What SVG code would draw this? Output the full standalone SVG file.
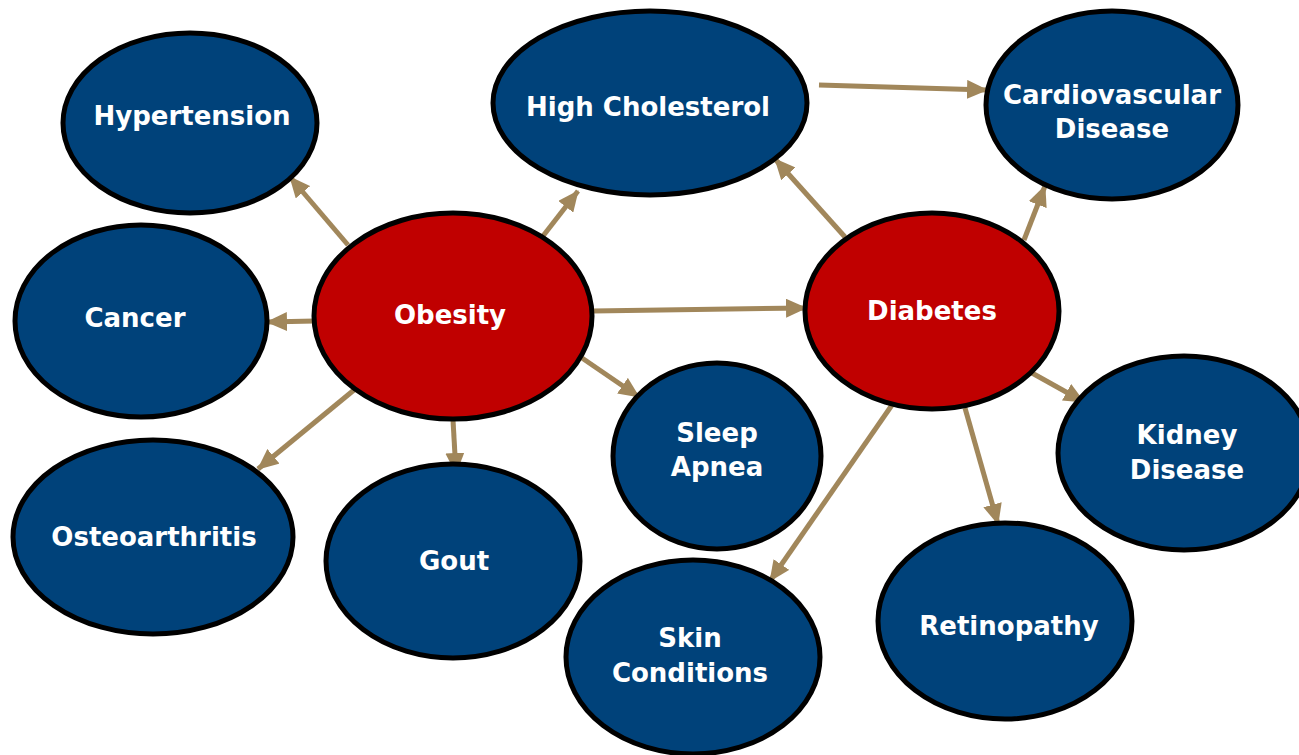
<svg xmlns="http://www.w3.org/2000/svg" width="1299" height="755" viewBox="0 0 1299 755">
<defs>
<style>
.n{fill:#00427a;stroke:#000;stroke-width:5}
.r{fill:#c00000;stroke:#000;stroke-width:5}
.t{fill:#fff;font-family:"DejaVu Sans",Verdana,sans-serif;font-weight:bold;font-size:26px;text-anchor:middle}
.c line{stroke:#a1875b;stroke-width:5;marker-end:url(#a)}
</style>
<marker id="a" markerUnits="userSpaceOnUse" markerWidth="21" markerHeight="19" viewBox="0 0 21 19" refX="20" refY="9.5" orient="auto">
<path d="M0,0 L21,9.5 L0,19 Z" fill="#a1875b"/>
</marker>
</defs>
<rect width="1299" height="755" fill="#fff"/>
<g class="c">
<line x1="348" y1="245" x2="290" y2="177"/>
<line x1="315" y1="321" x2="267" y2="322"/>
<line x1="543" y1="236" x2="578" y2="191"/>
<line x1="354" y1="390" x2="258" y2="469"/>
<line x1="453" y1="420" x2="456" y2="473"/>
<line x1="582" y1="358" x2="639" y2="397"/>
<line x1="593" y1="311" x2="806" y2="308"/>
<line x1="819" y1="85" x2="987" y2="90"/>
<line x1="845" y1="237" x2="775" y2="159"/>
<line x1="1024" y1="240" x2="1045" y2="186"/>
<line x1="1032" y1="373" x2="1084" y2="402"/>
<line x1="965" y1="408" x2="998" y2="524"/>
<line x1="892" y1="405" x2="770" y2="581"/>
</g>
<g id="hypertension"><ellipse class="n" cx="190" cy="123" rx="127" ry="90"/><text class="t" x="192" y="125">Hypertension</text></g>
<g id="high-cholesterol"><ellipse class="n" cx="650" cy="103" rx="157" ry="92"/><text class="t" x="648" y="116">High Cholesterol</text></g>
<g id="cardiovascular"><ellipse class="n" cx="1112" cy="105" rx="126" ry="94"/><text class="t" x="1112" y="104">Cardiovascular</text><text class="t" x="1112" y="138">Disease</text></g>
<g id="cancer"><ellipse class="n" cx="141" cy="321" rx="126" ry="96"/><text class="t" x="135" y="327">Cancer</text></g>
<g id="obesity"><ellipse class="r" cx="453" cy="316" rx="139" ry="103"/><text class="t" x="450" y="324">Obesity</text></g>
<g id="diabetes"><ellipse class="r" cx="932" cy="311" rx="127" ry="98"/><text class="t" x="932" y="320">Diabetes</text></g>
<g id="sleep-apnea"><ellipse class="n" cx="717" cy="456" rx="104" ry="93"/><text class="t" x="717" y="442">Sleep</text><text class="t" x="717" y="476">Apnea</text></g>
<g id="kidney"><ellipse class="n" cx="1184" cy="453" rx="126" ry="97"/><text class="t" x="1187" y="444">Kidney</text><text class="t" x="1187" y="479">Disease</text></g>
<g id="osteoarthritis"><ellipse class="n" cx="153" cy="537" rx="140" ry="97"/><text class="t" x="154" y="546">Osteoarthritis</text></g>
<g id="gout"><ellipse class="n" cx="453" cy="561" rx="127" ry="97"/><text class="t" x="454" y="570">Gout</text></g>
<g id="skin"><ellipse class="n" cx="693" cy="657" rx="127" ry="97"/><text class="t" x="690" y="647">Skin</text><text class="t" x="690" y="682">Conditions</text></g>
<g id="retinopathy"><ellipse class="n" cx="1005" cy="621" rx="127" ry="98"/><text class="t" x="1009" y="635">Retinopathy</text></g>
</svg>
